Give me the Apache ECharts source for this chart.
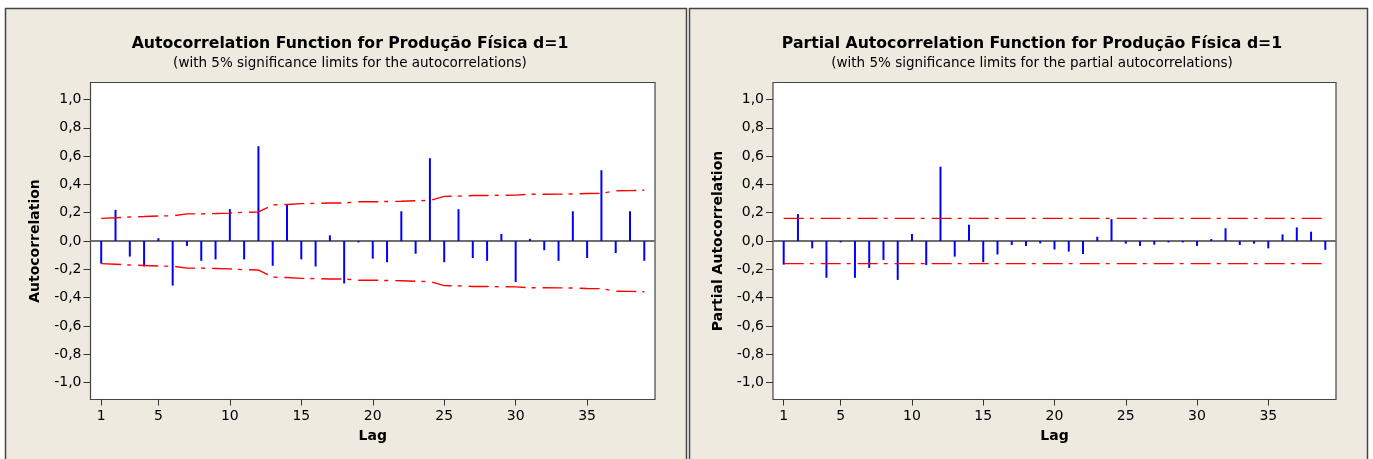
<!DOCTYPE html>
<html>
<head>
<meta charset="utf-8">
<script src="https://cdn.jsdelivr.net/npm/echarts@6/dist/echarts.min.js"></script>
<style>
html,body{margin:0;padding:0;background:#ffffff;}
#chart{width:1373px;height:459px;}
</style>
</head>
<body>
<div id="chart"></div>
<script>
// ---- data ----
var lags = [1,2,3,4,5,6,7,8,9,10,11,12,13,14,15,16,17,18,19,20,21,22,23,24,25,26,27,28,29,30,31,32,33,34,35,36,37,38,39];

var acf = [-0.16, 0.22, -0.11, -0.18, 0.02, -0.315, -0.035, -0.14, -0.13, 0.225,
           -0.13, 0.67, -0.175, 0.26, -0.13, -0.18, 0.04, -0.30, -0.01, -0.125,
           -0.15, 0.21, -0.09, 0.585, -0.15, 0.225, -0.12, -0.14, 0.05, -0.29,
           0.015, -0.065, -0.14, 0.21, -0.12, 0.50, -0.085, 0.21, -0.14];

var acfUpper = [0.160, 0.164, 0.170, 0.173, 0.177, 0.178, 0.192, 0.192, 0.194, 0.197,
                0.203, 0.205, 0.255, 0.258, 0.264, 0.266, 0.268, 0.269, 0.277, 0.277,
                0.279, 0.281, 0.285, 0.286, 0.315, 0.317, 0.321, 0.322, 0.323, 0.324,
                0.330, 0.330, 0.331, 0.332, 0.336, 0.337, 0.355, 0.356, 0.359];

var acfLower = [-0.160, -0.164, -0.170, -0.173, -0.177, -0.178, -0.192, -0.192, -0.194, -0.197,
                -0.203, -0.205, -0.255, -0.258, -0.264, -0.266, -0.268, -0.269, -0.277, -0.277,
                -0.279, -0.281, -0.285, -0.286, -0.315, -0.317, -0.321, -0.322, -0.323, -0.324,
                -0.330, -0.330, -0.331, -0.332, -0.336, -0.337, -0.355, -0.356, -0.359];

var pacf = [-0.167, 0.19, -0.052, -0.26, -0.01, -0.26, -0.19, -0.134, -0.275, 0.05,
            -0.17, 0.525, -0.11, 0.115, -0.15, -0.095, -0.028, -0.035, -0.017, -0.06,
            -0.075, -0.092, 0.03, 0.155, -0.019, -0.035, -0.026, -0.01, -0.01, -0.035,
            0.014, 0.09, -0.028, -0.019, -0.052, 0.047, 0.096, 0.066, -0.062];

var pacfUpper = [0.16,0.16,0.16,0.16,0.16,0.16,0.16,0.16,0.16,0.16,0.16,0.16,0.16,0.16,0.16,0.16,0.16,0.16,0.16,0.16,
                 0.16,0.16,0.16,0.16,0.16,0.16,0.16,0.16,0.16,0.16,0.16,0.16,0.16,0.16,0.16,0.16,0.16,0.16,0.16];
var pacfLower = [-0.16,-0.16,-0.16,-0.16,-0.16,-0.16,-0.16,-0.16,-0.16,-0.16,-0.16,-0.16,-0.16,-0.16,-0.16,-0.16,-0.16,-0.16,-0.16,-0.16,
                 -0.16,-0.16,-0.16,-0.16,-0.16,-0.16,-0.16,-0.16,-0.16,-0.16,-0.16,-0.16,-0.16,-0.16,-0.16,-0.16,-0.16,-0.16,-0.16];

var xTicks = [1, 5, 10, 15, 20, 25, 30, 35];
var yTicks = [-1.0, -0.8, -0.6, -0.4, -0.2, 0.0, 0.2, 0.4, 0.6, 0.8, 1.0];
var xRange = [0.25, 39.75];   // lag axis extent
var yRange = [-1.12, 1.12];   // correlation axis extent
var zeroLevel = 0;            // reference line drawn across the whole lag range

var titles = ['Autocorrelation Function for Produção Física d=1',
              'Partial Autocorrelation Function for Produção Física d=1'];
var subtitles = ['(with 5% significance limits for the autocorrelations)',
                 '(with 5% significance limits for the partial autocorrelations)'];
var yNames = ['Autocorrelation', 'Partial Autocorrelation'];
var xName = 'Lag';

// ---- styling ----
var FONT = '"DejaVu Sans", sans-serif';
var PANEL = '#EEEAE0';

function pairs(a) { return lags.map(function (l, i) { return [l, a[i]]; }); }

function xAxisFor(gi) {
  return {
    gridIndex: gi, type: 'value', min: xRange[0], max: xRange[1], position: 'bottom',
    splitLine: { show: false },
    axisLine: { show: false, onZero: false },
    axisTick: { show: true, customValues: xTicks, length: 6, lineStyle: { color: '#333', width: 1 } },
    axisLabel: { customValues: xTicks, margin: 10, color: '#000', fontSize: 14, fontFamily: FONT },
    name: xName, nameLocation: 'middle', nameGap: 30,
    nameTextStyle: { fontWeight: 'bold', fontSize: 14, color: '#000', fontFamily: FONT }
  };
}
function yAxisFor(gi) {
  return {
    gridIndex: gi, type: 'value', min: yRange[0], max: yRange[1], position: 'left',
    splitLine: { show: false },
    axisLine: { show: false, onZero: false },
    axisTick: { show: true, customValues: yTicks, length: 7, lineStyle: { color: '#333', width: 1 } },
    axisLabel: {
      customValues: yTicks, margin: 9, color: '#000', fontSize: 14, fontFamily: FONT,
      formatter: function (v) { var s = (Math.abs(v) < 1e-9 ? 0 : v).toFixed(1); return s.replace('.', ','); }
    },
    name: yNames[gi], nameLocation: 'middle', nameGap: 48, nameRotate: 90,
    nameTextStyle: { fontWeight: 'bold', fontSize: 14, color: '#000', fontFamily: FONT }
  };
}
function zeroSeries(gi) {
  return {
    type: 'line', xAxisIndex: gi, yAxisIndex: gi,
    data: [[xRange[0], zeroLevel], [xRange[1], zeroLevel]],
    symbol: 'none', silent: true, z: 6, clip: false,
    lineStyle: { color: '#6e6e6e', width: 2, type: 'solid', opacity: 1 }
  };
}
function barSeries(gi, vals) {
  return {
    type: 'bar', xAxisIndex: gi, yAxisIndex: gi, data: pairs(vals),
    barWidth: 2, itemStyle: { color: '#0000FF' }, silent: true, z: 7
  };
}
function limitSeries(gi, vals) {
  return {
    type: 'line', xAxisIndex: gi, yAxisIndex: gi, data: pairs(vals),
    symbol: 'none', silent: true, z: 8,
    lineStyle: { color: '#FF0000', width: 1.4, type: [20, 6, 4, 7] }
  };
}

var chart = echarts.init(document.getElementById('chart'), null, { renderer: 'canvas' });
chart.setOption({
  animation: false,
  backgroundColor: '#ffffff',
  graphic: [
    { type: 'rect', z: -10, shape: { x: 5.5, y: 8.5, width: 681, height: 470 },
      style: { fill: PANEL, stroke: '#444', lineWidth: 1.5 } },
    { type: 'rect', z: -10, shape: { x: 689.5, y: 8.5, width: 678, height: 470 },
      style: { fill: PANEL, stroke: '#444', lineWidth: 1.5 } }
  ],
  title: [
    { text: titles[0], left: 345, top: 31, textAlign: 'center',
      textStyle: { fontSize: 15.7, fontWeight: 'bold', color: '#000', fontFamily: FONT } },
    { text: subtitles[0], left: 345, top: 51, textAlign: 'center',
      textStyle: { fontSize: 13.5, fontWeight: 'normal', color: '#000', fontFamily: FONT } },
    { text: titles[1], left: 1027, top: 31, textAlign: 'center',
      textStyle: { fontSize: 15.7, fontWeight: 'bold', color: '#000', fontFamily: FONT } },
    { text: subtitles[1], left: 1027, top: 51, textAlign: 'center',
      textStyle: { fontSize: 13.5, fontWeight: 'normal', color: '#000', fontFamily: FONT } }
  ],
  grid: [
    { left: 90.5, top: 82.5, width: 564.5, height: 317, show: true, backgroundColor: '#ffffff',
      borderColor: '#444', borderWidth: 1.2, z: 0 },
    { left: 773, top: 82.5, width: 563, height: 317, show: true, backgroundColor: '#ffffff',
      borderColor: '#444', borderWidth: 1.2, z: 0 }
  ],
  xAxis: [xAxisFor(0), xAxisFor(1)],
  yAxis: [yAxisFor(0), yAxisFor(1)],
  series: [
    zeroSeries(0), barSeries(0, acf), limitSeries(0, acfUpper), limitSeries(0, acfLower),
    zeroSeries(1), barSeries(1, pacf), limitSeries(1, pacfUpper), limitSeries(1, pacfLower)
  ]
});
</script>
</body>
</html>
